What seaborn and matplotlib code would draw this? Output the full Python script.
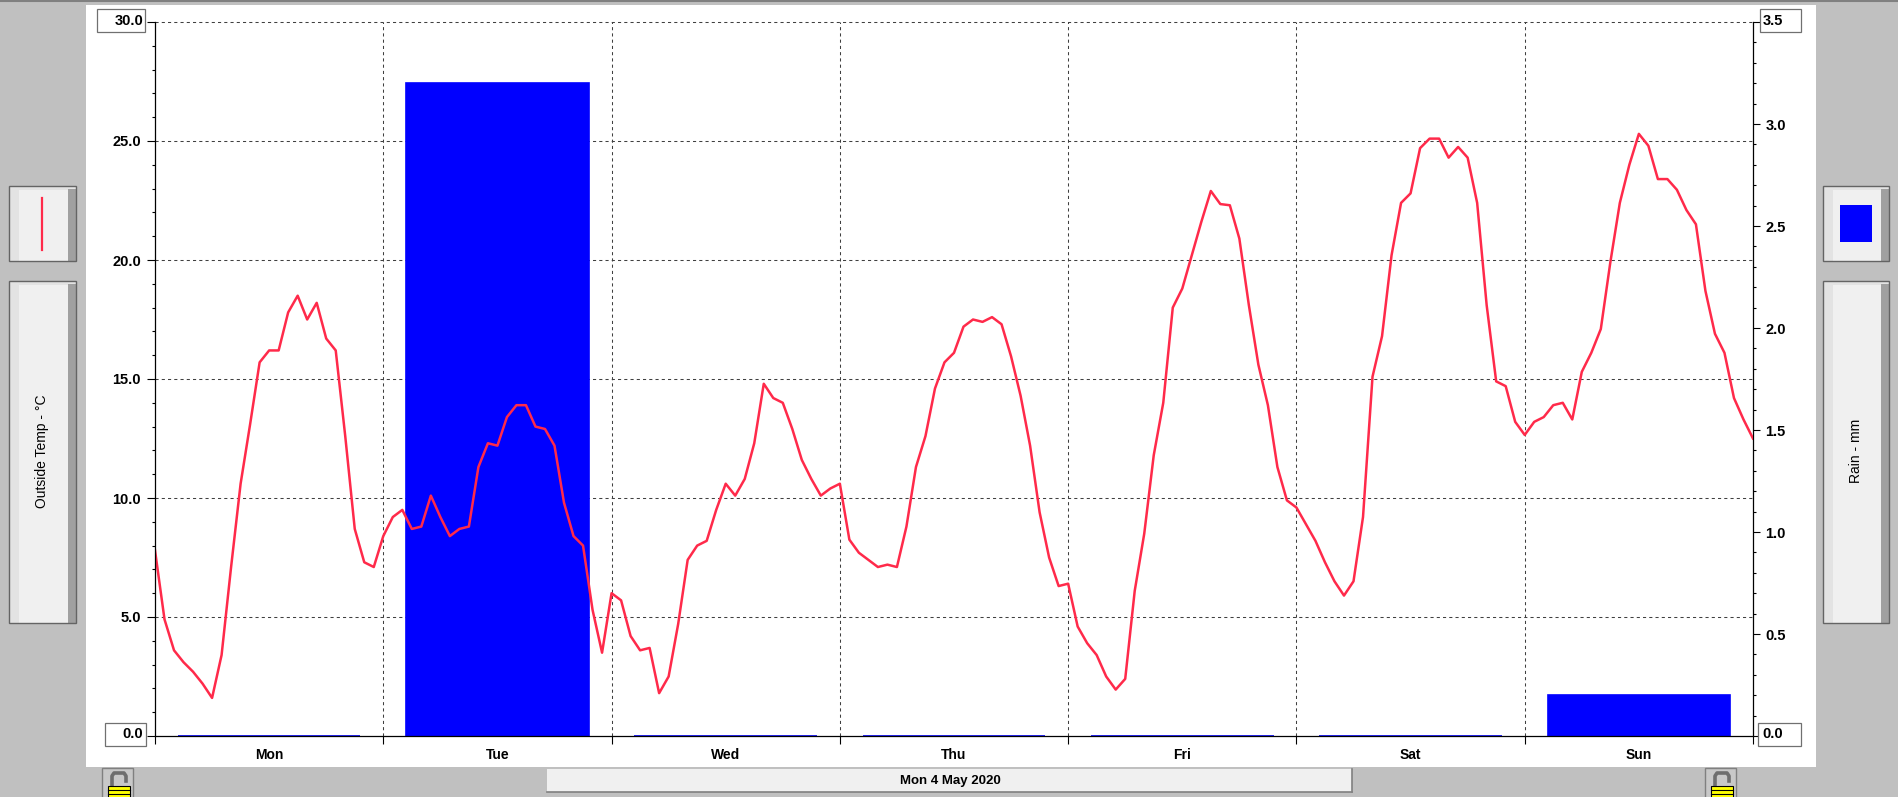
import numpy as np
import matplotlib
matplotlib.use('Agg')
import matplotlib.pyplot as plt
import seaborn as sns
from matplotlib.patches import Rectangle
from matplotlib.lines import Line2D
from matplotlib.ticker import MultipleLocator, FuncFormatter

plt.rcParams['font.family'] = ['Liberation Sans', 'DejaVu Sans']

# ---- data ----
days = ['Mon', 'Tue', 'Wed', 'Thu', 'Fri', 'Sat', 'Sun']
rain_mm = [0.0, 3.2, 0.0, 0.0, 0.0, 0.0, 0.2]

# hourly outside temperature, deg C
temp_mon = [7.8, 4.9, 3.6, 3.1, 2.7, 2.2, 1.6, 3.4, 7.1, 10.6, 13.1, 15.7,
            16.2, 16.2, 17.8, 18.5, 17.5, 18.2, 16.7, 16.2, 12.6, 8.7, 7.3, 7.1]
temp_tue = [8.4, 9.2, 9.5, 8.7, 8.8, 10.1, 9.2, 8.4, 8.7, 8.8, 11.3, 12.3,
            12.2, 13.4, 13.9, 13.9, 13.0, 12.9, 12.2, 9.8, 8.4, 8.0, 5.3, 3.5]
temp_wed = [6.0, 5.7, 4.2, 3.6, 3.7, 1.8, 2.5, 4.7, 7.4, 8.0, 8.2, 9.5,
            10.6, 10.1, 10.8, 12.3, 14.8, 14.2, 14.0, 12.9, 11.6, 10.8, 10.1, 10.4]
temp_thu = [10.6, 8.25, 7.7, 7.4, 7.1, 7.2, 7.1, 8.8, 11.3, 12.6, 14.6, 15.7,
            16.1, 17.2, 17.5, 17.4, 17.6, 17.3, 15.95, 14.3, 12.2, 9.4, 7.5, 6.3]
temp_fri = [6.4, 4.6, 3.9, 3.4, 2.5, 1.95, 2.4, 6.1, 8.5, 11.8, 14.0, 18.0,
            18.8, 20.2, 21.6, 22.9, 22.35, 22.3, 20.9, 18.1, 15.6, 13.9, 11.3, 9.9]
temp_sat = [9.6, 8.9, 8.2, 7.3, 6.5, 5.9, 6.5, 9.2, 15.1, 16.8, 20.2, 22.4,
            22.8, 24.7, 25.1, 25.1, 24.3, 24.75, 24.3, 22.4, 18.1, 14.9, 14.7, 13.2]
temp_sun = [12.65, 13.2, 13.4, 13.9, 14.0, 13.3, 15.3, 16.1, 17.1, 19.9, 22.4, 24.0,
            25.3, 24.8, 23.4, 23.4, 22.95, 22.1, 21.5, 18.7, 16.9, 16.1, 14.2, 13.3, 12.5]

temps = temp_mon + temp_tue + temp_wed + temp_thu + temp_fri + temp_sat + temp_sun
t_days = np.arange(len(temps)) / 24.0
day_mid = np.arange(len(days)) + 0.5

W, H = 1898, 797
RED = '#ff2a4a'
BLUE = '#0000ff'


def fx(x):
    return x / W


def fy(y):
    return 1 - y / H


def rect(x0, y0, x1, y1, **kw):
    r = Rectangle((fx(x0), fy(y1)), (x1 - x0) / W, (y1 - y0) / H,
                  transform=fig.transFigure, **kw)
    fig.add_artist(r)
    return r


def hline(x0, x1, y, **kw):
    fig.add_artist(Line2D([fx(x0), fx(x1)], [fy(y), fy(y)], transform=fig.transFigure, **kw))


def vline(x, y0, y1, **kw):
    fig.add_artist(Line2D([fx(x), fx(x)], [fy(y0), fy(y1)], transform=fig.transFigure, **kw))


def button(x0, y0, x1, y1):
    rect(x0, y0, x1, y1, facecolor='#f0f0f0', edgecolor='none', zorder=1)
    rect(x0, y0, x0 + 10, y1, facecolor='#e3e3e3', edgecolor='none', zorder=1)
    rect(x0, y0, x1, y0 + 4, facecolor='#e3e3e3', edgecolor='none', zorder=1)
    rect(x1 - 8, y0 + 3, x1, y1, facecolor='#a0a0a0', edgecolor='none', zorder=1)
    rect(x0, y0, x1, y1, facecolor='none', edgecolor='#646464', linewidth=1, zorder=1.1)


def lock(x0):
    rect(x0, 768, x0 + 31, 799, facecolor='#c8c8c8', edgecolor='#808080', linewidth=1, zorder=1)
    # shackle
    fig.add_artist(Line2D([fx(x0 + 10), fx(x0 + 10), fx(x0 + 12), fx(x0 + 22),
                           fx(x0 + 24), fx(x0 + 24)],
                          [fy(786), fy(776), fy(773), fy(773), fy(776), fy(781)],
                          transform=fig.transFigure, color='#6e6e6e',
                          linewidth=2.6, solid_joinstyle='round', zorder=1.2))
    rect(x0 + 6, 786, x0 + 28, 800, facecolor='#ffff00', edgecolor='black', linewidth=0.8, zorder=1.3)
    for yy in (790, 793.5):
        hline(x0 + 6, x0 + 28, yy, color='black', linewidth=0.8, zorder=1.4)


fig = plt.figure(figsize=(W / 100, H / 100), dpi=100, facecolor='#c0c0c0')

# window furniture
hline(0, W, 1, color='#808080', linewidth=1.5, zorder=0)
rect(86, 5, 1816, 767, facecolor='white', edgecolor='none', zorder=-1)

ax = fig.add_axes([155 / W, 1 - 736 / H, (1753 - 155) / W, (736 - 22) / H])
ax2 = ax.twinx()
ax.set_zorder(2)
ax2.set_zorder(1)
ax.patch.set_visible(False)
ax2.patch.set_visible(True)
ax2.patch.set_facecolor('white')

# grid (kept under the rain bars)
grid_kw = dict(color='#404040', linestyle=(0, (3, 3)), linewidth=0.75, zorder=0.6, clip_on=False)
for d in range(1, 7):
    ax2.axvline(d, **grid_kw)
for t in range(5, 31, 5):
    ax2.axhline(t * 3.5 / 30, **grid_kw)

sns.barplot(x=day_mid, y=rain_mm, native_scale=True, width=0.8, color=BLUE,
            saturation=1, edgecolor=BLUE, linewidth=1.2, errorbar=None, ax=ax2)
sns.lineplot(x=t_days, y=temps, ax=ax, color=RED, linewidth=1.8)

ax.set_xlim(0, 7)
ax.set_ylim(0, 30)
ax2.set_ylim(0, 3.5)
ax.set_xlabel('')
ax.set_ylabel('')
ax2.set_xlabel('')
ax2.set_ylabel('')

# x axis: ticks at day boundaries, names in the middle
ax.set_xticks(range(8))
ax.set_xticklabels([])
ax.set_xticks(day_mid, minor=True)
ax.set_xticklabels(days, minor=True)
ax.tick_params(axis='x', which='major', length=5.8, width=0.8, direction='out', color='black', bottom=True)
ax.tick_params(axis='x', which='minor', length=0, pad=8.5, labelsize=10)
for lab in ax.get_xticklabels(minor=True):
    lab.set_fontweight('bold')

# left: temperature
ax.yaxis.set_major_locator(MultipleLocator(5))
ax.yaxis.set_minor_locator(MultipleLocator(1))
ax.yaxis.set_major_formatter(FuncFormatter(lambda v, p: '' if v < 0.1 or v > 29.9 else f'{v:.1f}'))
ax.tick_params(axis='y', which='major', length=5.8, width=0.8, direction='out', pad=4.3,
               labelsize=10.5, left=True, color='black')
ax.tick_params(axis='y', which='minor', length=2.3, width=0.8, direction='out', left=True, color='black')
for lab in ax.get_yticklabels():
    lab.set_fontweight('bold')

# right: rain
ax2.yaxis.set_major_locator(MultipleLocator(0.5))
ax2.yaxis.set_minor_locator(MultipleLocator(0.1))
ax2.yaxis.set_major_formatter(FuncFormatter(lambda v, p: '' if v < 0.05 or v > 3.45 else f'{v:.1f}'))
ax2.tick_params(axis='y', which='major', length=5, width=0.8, direction='out', pad=4,
                labelsize=10.5, right=True, color='black')
ax2.tick_params(axis='y', which='minor', length=2.3, width=0.8, direction='out', right=True, color='black')
for lab in ax2.get_yticklabels():
    lab.set_fontweight('bold')

for s in ('top', 'right'):
    ax.spines[s].set_visible(False)
for s in ('top', 'left', 'bottom'):
    ax2.spines[s].set_visible(False)
for sp in (ax.spines['left'], ax.spines['bottom'], ax2.spines['right']):
    sp.set_color('black')
    sp.set_linewidth(0.9)

# boxed end labels of both scales
for x0, y0, x1, y1, txt, tx, ty, ha in [
        (97, 9, 145, 32, '30.0', 143, 21, 'right'),
        (105, 723, 146, 746, '0.0', 143, 734, 'right'),
        (1760, 9, 1801, 32, '3.5', 1763, 21, 'left'),
        (1758, 723, 1801, 746, '0.0', 1762, 734, 'left')]:
    rect(x0, y0, x1, y1, facecolor='white', edgecolor='#707070', linewidth=0.9, zorder=3)
    fig.text(fx(tx), fy(ty), txt, ha=ha, va='center', fontsize=10.5, fontweight='bold', zorder=4)

# side legend buttons
button(9, 186, 76, 261)
vline(42, 198, 250, color=RED, linewidth=1.6, zorder=2)
button(9, 281, 76, 623)
fig.text(fx(42), fy(451), 'Outside Temp - °C', rotation=90, ha='center', va='center', fontsize=10, zorder=2)

button(1823, 186, 1889, 261)
rect(1840, 205, 1872, 242, facecolor=BLUE, edgecolor='none', zorder=2)
button(1823, 281, 1889, 623)
fig.text(fx(1856), fy(451), 'Rain - mm', rotation=90, ha='center', va='center', fontsize=10, zorder=2)

# bottom date button and locks
rect(547, 769, 1352, 792, facecolor='#f0f0f0', edgecolor='none', zorder=1)
hline(547, 1352, 792, color='#808080', linewidth=1.2, zorder=1.1)
vline(1352, 769, 792, color='#808080', linewidth=1.2, zorder=1.1)
fig.text(fx(950), fy(781), 'Mon 4 May 2020', ha='center', va='center', fontsize=9.5,
         fontweight='bold', zorder=2)
lock(102)
lock(1705)

fig.savefig('out.png', dpi=100, facecolor=fig.get_facecolor())
